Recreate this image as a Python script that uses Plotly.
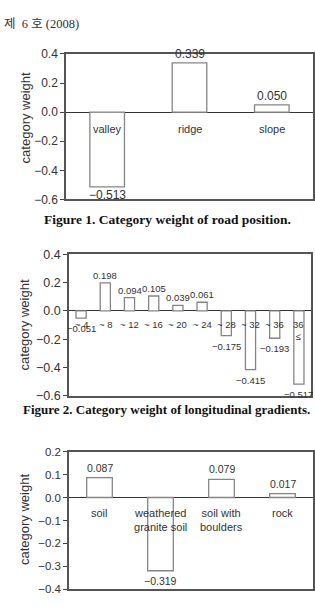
import plotly.graph_objects as go

W, H = 315, 612

# ---- data ----
pos_cats = ["valley", "ridge", "slope"]
pos_vals = [-0.513, 0.339, 0.050]

grad_cats = ["~ 4", "~ 8", "~ 12", "~ 16", "~ 20", "~ 24", "~ 28", "~ 32", "~ 36", "36<br>≤"]
grad_vals = [-0.051, 0.198, 0.094, 0.105, 0.039, 0.061, -0.175, -0.415, -0.193, -0.517]

soil_cats = ["soil", "weathered<br>granite soil", "soil with<br>boulders", "rock"]
soil_vals = [0.087, -0.319, 0.079, 0.017]

header_text = "제  6 호 (2008)"
captions = ["Figure 1. Category weight of road position.",
            "Figure 2. Category weight of longitudinal gradients."]
ytitle = "category weight"

SANS = "Liberation Sans, Arial, sans-serif"
SERIF = "Liberation Serif, Times New Roman, Noto Sans CJK KR, serif"
TXT = "#333333"


def px(x):
    return x / W


def py(y):
    return 1 - y / H


fig = go.Figure()

charts = [
    dict(cats=pos_cats, vals=pos_vals, xd=(66, 313), yd=(48, 197), yr=[-0.6, 0.4], dt=0.2,
         tf=".1f", tick_fs=12, val_fs=12, cat_fs=11, cat_shift=-9, pos_shift=0, neg_shift=1,
         title_y=114),
    dict(cats=grad_cats, vals=grad_vals, xd=(69, 311), yd=(253, 398), yr=[-0.6, 0.4], dt=0.2,
         tf=".1f", tick_fs=12.5, val_fs=9.5, cat_fs=9.5, cat_shift=-6, pos_shift=0, neg_shift=-3,
         title_y=326),
    dict(cats=soil_cats, vals=soil_vals, xd=(69, 313), yd=(455, 596), yr=[-0.4, 0.2], dt=0.1,
         tf=".1f", tick_fs=11.5, val_fs=10.5, cat_fs=11, cat_shift=-7, pos_shift=2, neg_shift=-2,
         title_y=525),
]

annotations = []
for i, c in enumerate(charts, start=1):
    xa = "x" if i == 1 else f"x{i}"
    ya = "y" if i == 1 else f"y{i}"
    fig.add_trace(go.Bar(
        x=c["cats"], y=c["vals"], xaxis=xa, yaxis=ya,
        marker=dict(color="white", line=dict(color="#858585", width=1.3)),
        hoverinfo="skip", showlegend=False,
    ))
    xkey = "xaxis" if i == 1 else f"xaxis{i}"
    ykey = "yaxis" if i == 1 else f"yaxis{i}"
    fig.update_layout(**{
        xkey: dict(domain=[px(c["xd"][0]), px(c["xd"][1])], anchor=ya,
                   type="category", range=[-0.5, len(c["cats"]) - 0.5],
                   showticklabels=False, ticks="", showgrid=False, zeroline=False,
                   showline=True, mirror=True, linecolor="#555555", linewidth=1.5,
                   fixedrange=True),
        ykey: dict(domain=[py(c["yd"][1]), py(c["yd"][0])], anchor=xa,
                   range=c["yr"], dtick=c["dt"], tick0=0, tickformat=c["tf"],
                   showgrid=False, zeroline=True, zerolinecolor="#333333", zerolinewidth=1.3,
                   showline=True, mirror=True, linecolor="#555555", linewidth=1.5,
                   ticks="outside", ticklen=4, tickwidth=1.2, tickcolor="#444444",
                   tickfont=dict(family=SANS, size=c["tick_fs"], color=TXT),
                   fixedrange=True),
    })
    # value labels
    for cat, v in zip(c["cats"], c["vals"]):
        annotations.append(dict(
            x=cat, y=v, xref=xa, yref=ya, text=f"{v:.3f}".replace("-", "−"),
            showarrow=False, yanchor="bottom" if v >= 0 else "top",
            yshift=c["pos_shift"] if v >= 0 else c["neg_shift"],
            font=dict(family=SANS, size=c["val_fs"], color=TXT)))
    # category labels near zero line
    for cat in c["cats"]:
        annotations.append(dict(
            x=cat, y=0, xref=xa, yref=ya, text=cat, showarrow=False,
            yanchor="top", yshift=c["cat_shift"],
            font=dict(family=SANS, size=c["cat_fs"], color=TXT)))
    # y-axis title
    annotations.append(dict(
        x=px(25), y=py(c["title_y"]), xref="paper", yref="paper", text=ytitle,
        textangle=-90, showarrow=False, xanchor="center", yanchor="middle",
        font=dict(family=SANS, size=13, color=TXT)))

# captions
annotations.append(dict(x=px(167), y=py(217), xref="paper", yref="paper",
                        text=f"<b>{captions[0]}</b>", showarrow=False,
                        font=dict(family=SERIF, size=13.5, color="#111111")))
annotations.append(dict(x=px(166), y=py(422), xref="paper", yref="paper",
                        text=f"<b>{captions[1]}</b>", showarrow=False,
                        font=dict(family=SERIF, size=13, color="#111111")))
# header
annotations.append(dict(x=px(2), y=py(8), xref="paper", yref="paper",
                        text=header_text, showarrow=False, xanchor="left",
                        font=dict(family=SERIF, size=12.5, color="#333333")))

fig.update_layout(
    width=W, height=H, margin=dict(l=0, r=0, t=0, b=0),
    paper_bgcolor="white", plot_bgcolor="white",
    bargap=0.58, showlegend=False, annotations=annotations,
)

fig.write_html("out.html", config={"displayModeBar": False})
